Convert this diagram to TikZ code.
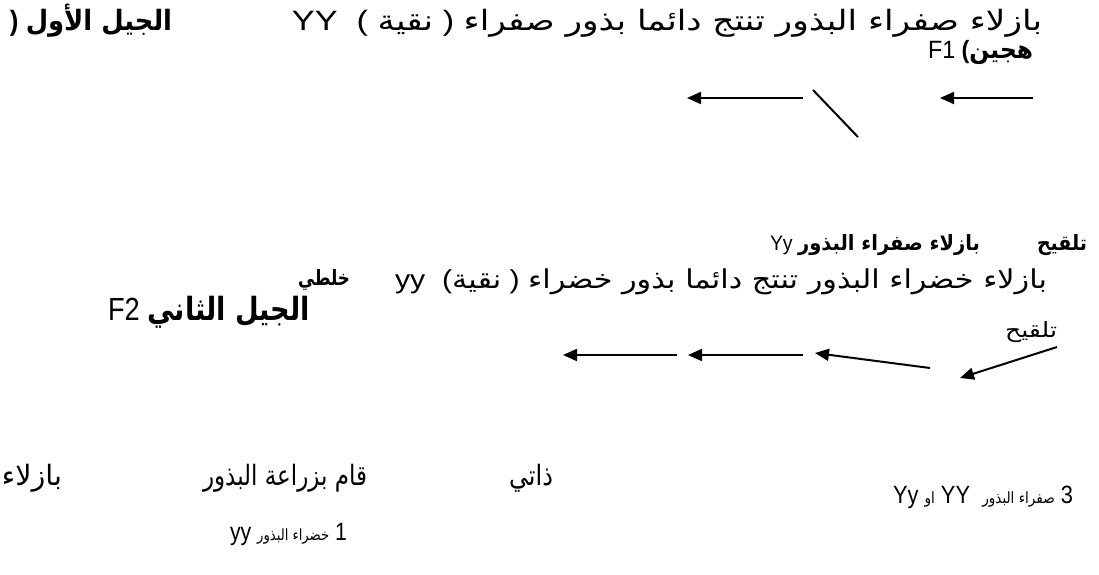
\documentclass[tikz,border=0pt]{standalone}
\usepackage{fontspec}
\usepackage{graphicx}
\setmainfont{Liberation Sans}
\newfontfamily\arabicfont[Script=Arabic]{DejaVu Sans}
\newfontfamily\arabicsmall[Script=Arabic,Scale=0.62]{DejaVu Sans}
\TeXXeTstate=1
\usetikzlibrary{arrows.meta}
\newcommand\AR[1]{{\arabicfont\beginR #1\endR}}
\newcommand\ARB[1]{{\arabicfont\bfseries\beginR #1\endR}}
\newcommand\ARS[1]{{\arabicsmall\beginR #1\endR}}
\newsavebox\fitbox
\newlength\fitlen
\newcommand\fitto[2]{\sbox\fitbox{#2}\setlength\fitlen{\wd\fitbox}\pgfmathsetmacro\fitr{#1*0.5/\fitlen}\scalebox{\fitr}[1]{\usebox\fitbox}}
\tikzset{
  txt/.style={inner sep=0pt,outer sep=0pt},
  fA/.style={font=\fontsize{14}{16}\selectfont},
  fB/.style={font=\fontsize{12.5}{14}\selectfont},
  fL/.style={font=\fontsize{12.5}{14}\selectfont},
  fS/.style={font=\fontsize{10.5}{12}\selectfont},
  fE/.style={font=\fontsize{13}{15}\selectfont},
  fF/.style={font=\fontsize{16}{18}\selectfont},
  arr/.style={line width=1pt,-{Triangle[length=7pt,width=6pt]}},
  ln/.style={line width=1pt}
}
\begin{document}
\begin{tikzpicture}[x=0.5pt,y=-0.5pt]
\fill[white] (0,0) rectangle (1099,574);
\useasboundingbox (0,0) rectangle (1099,574);
% Row A
\node[txt,fA,anchor=base west] (gen1) at (10,30) {\fitto{162}{\textbf{)} \ARB{الجيل الأول}}};
\node[txt,fA,anchor=base east] (l1) at (1042,30) {\fitto{750}{YY\ \ ( \AR{نقية} ) \AR{بازلاء صفراء البذور تنتج دائما بذور صفراء}}};
% Row B
\node[txt,fB,anchor=base east] (l2) at (1033,58) {\fitto{105}{F1 \textbf{(}\ARB{هجين}}};
% Row C arrows
\coordinate (c1s) at (1033,98);
\coordinate (c1e) at (940,98);
\coordinate (c2s) at (813,90);
\coordinate (c2e) at (858,137);
\coordinate (c3s) at (803,98);
\coordinate (c3e) at (687,98);
\draw[arr] (c1s) -- (c1e);
\draw[ln] (c2s) -- (c2e);
\draw[arr] (c3s) -- (c3e);
% Row D
\node[txt,fS,anchor=base east] (d1) at (980,250) {\fitto{210}{Yy \ARB{بازلاء صفراء البذور}}};
\node[txt,fS,anchor=base east] (d2) at (1087,250) {\fitto{50}{\ARB{تلقيح}}};
% Row E
\node[txt,fE,anchor=base east] (e1) at (1047,288) {\fitto{652}{yy\ \ (\AR{نقية} ) \AR{بازلاء خضراء البذور تنتج دائما بذور خضراء}}};
\node[txt,fS,anchor=base east] (e2) at (350,285) {\fitto{52}{\ARB{خلطي}}};
% Row F
\node[txt,fF,anchor=base east] (f1) at (310,320) {\fitto{202}{F2 \ARB{الجيل الثاني}}};
\node[txt,fS,anchor=base east] (f2) at (1057,337) {\fitto{52}{\AR{تلقيح}}};
% Row G arrows
\coordinate (g1s) at (803,355);
\coordinate (g1e) at (688,355);
\coordinate (g2s) at (677,355);
\coordinate (g2e) at (563,355);
\coordinate (g3s) at (930,368);
\coordinate (g3e) at (815,353);
\coordinate (g4s) at (1057,347);
\coordinate (g4e) at (960,378);
\draw[arr] (g1s) -- (g1e);
\draw[arr] (g2s) -- (g2e);
\draw[arr] (g3s) -- (g3e);
\draw[arr] (g4s) -- (g4e);
% Row H
\node[txt,fA,anchor=base west] (h1) at (2,485) {\fitto{60}{\AR{بازلاء}}};
\node[txt,fA,anchor=base west] (h2) at (203,485) {\fitto{164}{\AR{قام بزراعة البذور}}};
\node[txt,fA,anchor=base east] (h3) at (553,485) {\fitto{44}{\AR{ذاتي}}};
% Row I
\node[txt,fL,anchor=base west] (i1) at (893,503) {\fitto{180}{Yy \ARS{او} YY\ \ \ARS{صفراء البذور} 3}};
% Row J
\node[txt,fL,anchor=base west] (j1) at (230,540) {\fitto{117}{yy \ARS{خضراء البذور} 1}};
\end{tikzpicture}
\end{document}
